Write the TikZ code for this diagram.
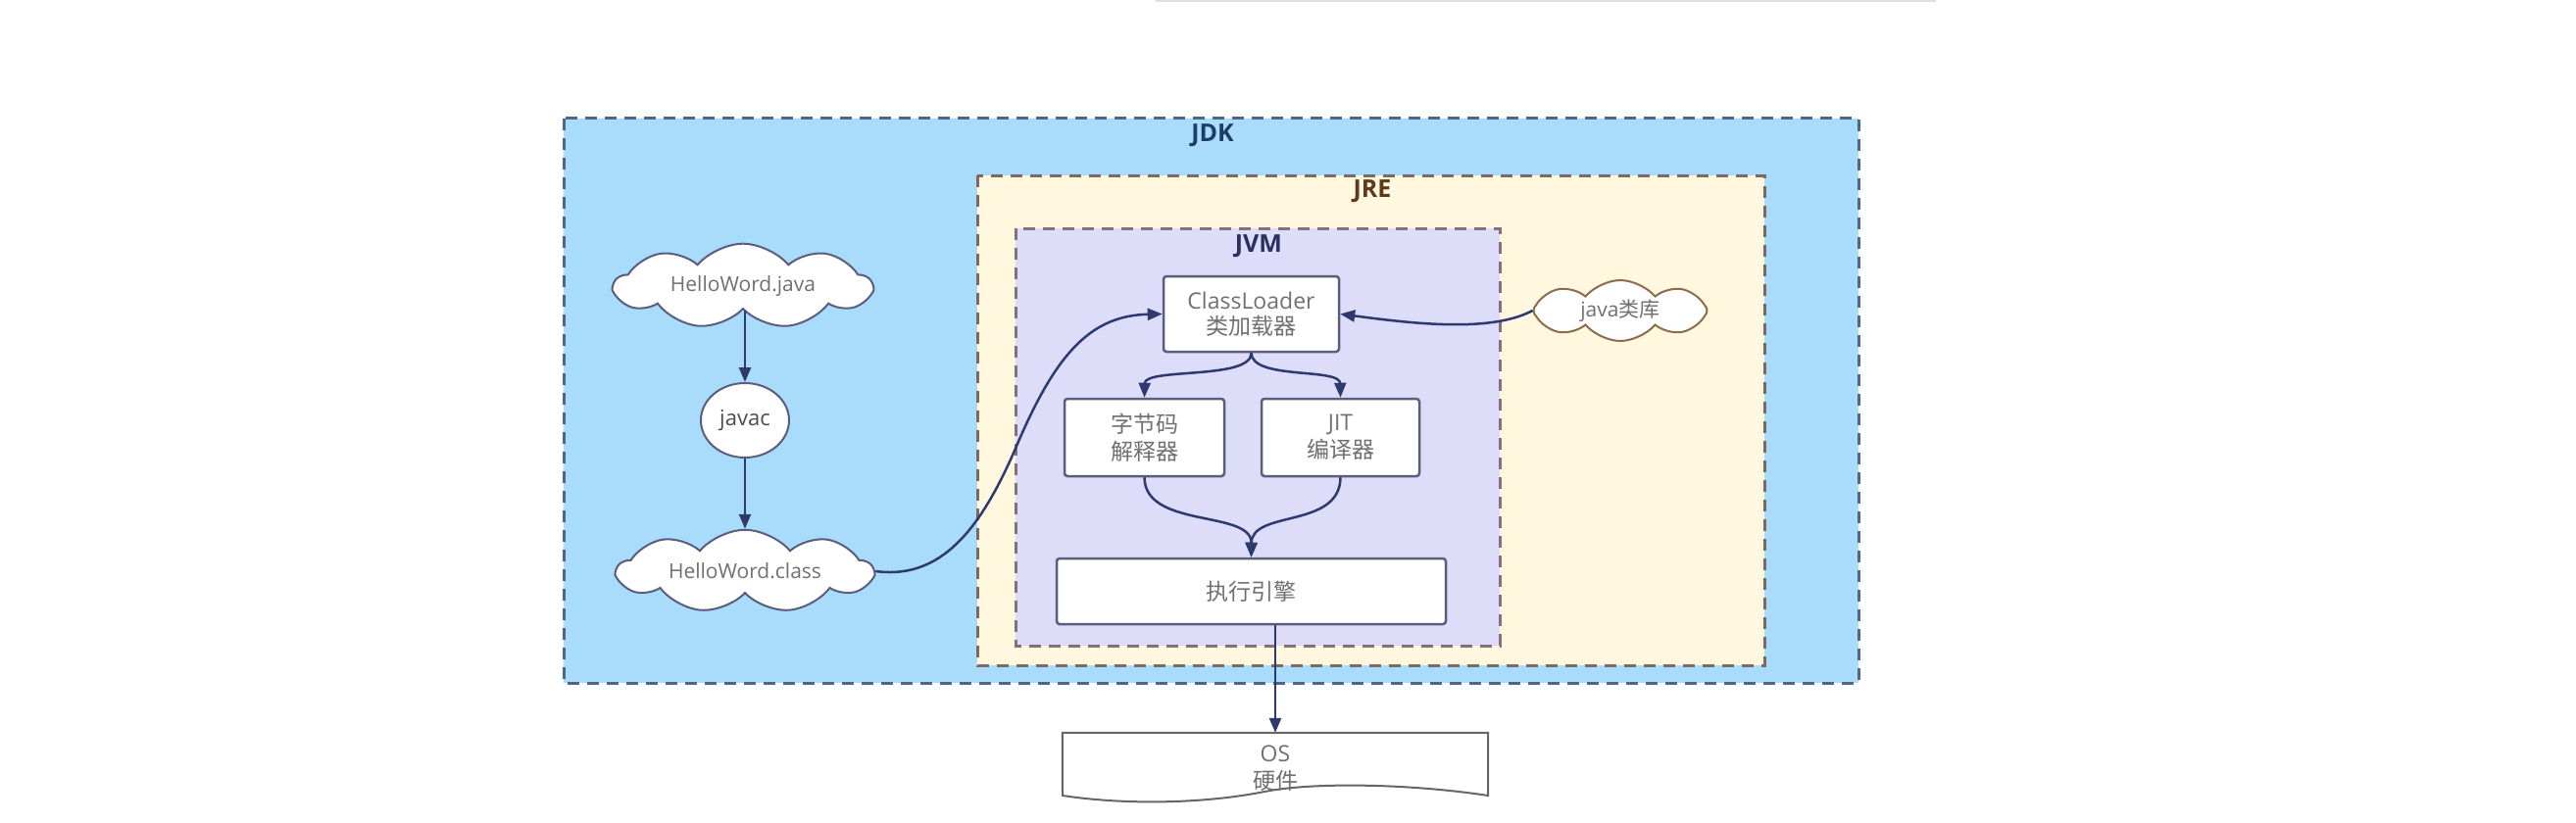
\documentclass[tikz,border=0pt]{standalone}
\usepackage{fontspec}
\setmainfont{Open Sans}
\newfontfamily\cjk{Noto Sans CJK SC}
\usetikzlibrary{shapes.symbols,shapes.geometric,arrows.meta}
\definecolor{jdkfill}{HTML}{A9DCFB}
\definecolor{jdkline}{HTML}{4F6783}
\definecolor{jrefill}{HTML}{FFF8DF}
\definecolor{jreline}{HTML}{7C6A62}
\definecolor{jvmfill}{HTML}{DDDDFA}
\definecolor{jvmline}{HTML}{86707E}
\definecolor{boxline}{HTML}{5A5E7C}
\definecolor{conn}{HTML}{2E3A6E}
\definecolor{txt}{HTML}{707070}
\definecolor{jdktxt}{HTML}{1E3C6A}
\definecolor{jretxt}{HTML}{5E3A1C}
\definecolor{jvmtxt}{HTML}{2A3060}
\definecolor{libline}{HTML}{8C6C4C}
\tikzset{
  area/.style={line width=3pt, dash pattern=on 12pt off 8pt},
  arealabel/.style={font=\fontsize{25}{30}\selectfont\bfseries},
  procbox/.style={draw=boxline, fill=white, line width=2.5pt, rounded corners=3pt,
    text=txt, align=center, font=\fontsize{23}{28}\selectfont, inner sep=0pt},
  cloudnode/.style={cloud, cloud puffs=9, cloud puff arc=100, draw=boxline, fill=white,
    line width=2pt, text=txt, font=\fontsize{21}{26}\selectfont, inner sep=0pt},
  conline/.style={draw=conn, line width=2.5pt, -{Triangle[length=15pt,width=12pt]}},
}
\begin{document}
\begin{tikzpicture}[x=1pt,y=-1pt]
\useasboundingbox (0,0) rectangle (2628,840);
\fill[white] (0,0) rectangle (2628,840);
\fill[black!12] (1179,0) rectangle (1975,2.5);
% areas
\draw[area, draw=jdkline, fill=jdkfill] (575,121) rectangle (1896,697);
\draw[area, draw=jreline, fill=jrefill] (997,179) rectangle (1800,679);
\draw[area, draw=jvmline, fill=jvmfill] (1036,233) rectangle (1530,659);
\node[arealabel, text=jdktxt] (jdk) at (1237,138) {JDK};
\node[arealabel, text=jretxt] (jre) at (1400,195) {JRE};
\node[arealabel, text=jvmtxt] (jvm) at (1284,251) {JVM};
% nodes
\node[cloudnode, aspect=3.7, minimum width=262pt, minimum height=70pt] (hj) at (758,292) {HelloWord.java};
\node[ellipse, draw=boxline, fill=white, line width=2pt, minimum width=90pt, minimum height=76pt,
  inner sep=0pt, text=black!70, font=\fontsize{22}{26}\selectfont] (javac) at (760,429) {javac};
\node[cloudnode, aspect=4.2, minimum width=260pt, minimum height=62pt] (hc) at (760,583) {HelloWord.class};
\node[cloudnode, aspect=2.9, cloud puffs=8, draw=libline, minimum width=177pt, minimum height=62pt] (lib) at (1653,317) {java{\cjk 类库}};
\node[procbox, minimum width=179pt, minimum height=77pt] (cl) at (1276.5,320.5) {ClassLoader\\[-2pt]{\cjk 类加载器}};
\node[procbox, minimum width=163pt, minimum height=79pt] (interp) at (1167.5,446.5) {\cjk 字节码\\\cjk 解释器};
\node[procbox, minimum width=161pt, minimum height=79pt] (jit) at (1367.5,446.5) {JIT\\{\cjk 编译器}};
\node[procbox, minimum width=397pt, minimum height=67pt] (exec) at (1276.5,603.5) {\cjk 执行引擎};
\node[minimum width=434pt, minimum height=64pt, inner sep=0pt] (os) at (1301,780) {};
\draw[draw=black!60, fill=white, line width=2pt]
  (os.north west) -- (os.north east) -- (1518,812)
  .. controls (1440,800) and (1340,798) .. (1290,808)
  .. controls (1230,820) and (1150,822) .. (1084,812) -- cycle;
\node[text=txt, align=center, font=\fontsize{23}{28}\selectfont] (ostext) at (1301,784) {OS\\{\cjk 硬件}};
% connectors
\draw[conline] (hj.south -| javac.north) -- (javac.north);
\draw[conline] (javac.south) -- (javac.south |- hc.north);
\coordinate (mid1) at (1035,460);
\draw[conline] (hc.east) .. controls (960,592) and (1000,540) .. (mid1)
  .. controls (1075,365) and (1110,322) .. (cl.west);
\draw[conline] (lib.west) .. controls (1520,340) and (1440,330) .. (cl.east);
\draw[conline] (cl.south) .. controls (1277,388) and (1168,375) .. (interp.north);
\draw[conline] (cl.south) .. controls (1277,388) and (1367,375) .. (jit.north);
\draw[conline] (interp.south) .. controls (1168,540) and (1277,520) .. (exec.north);
\draw[conline] (jit.south) .. controls (1367,540) and (1277,520) .. (exec.north);
\draw[conline] (exec.south -| os.north) -- (os.north);
\end{tikzpicture}
\end{document}
